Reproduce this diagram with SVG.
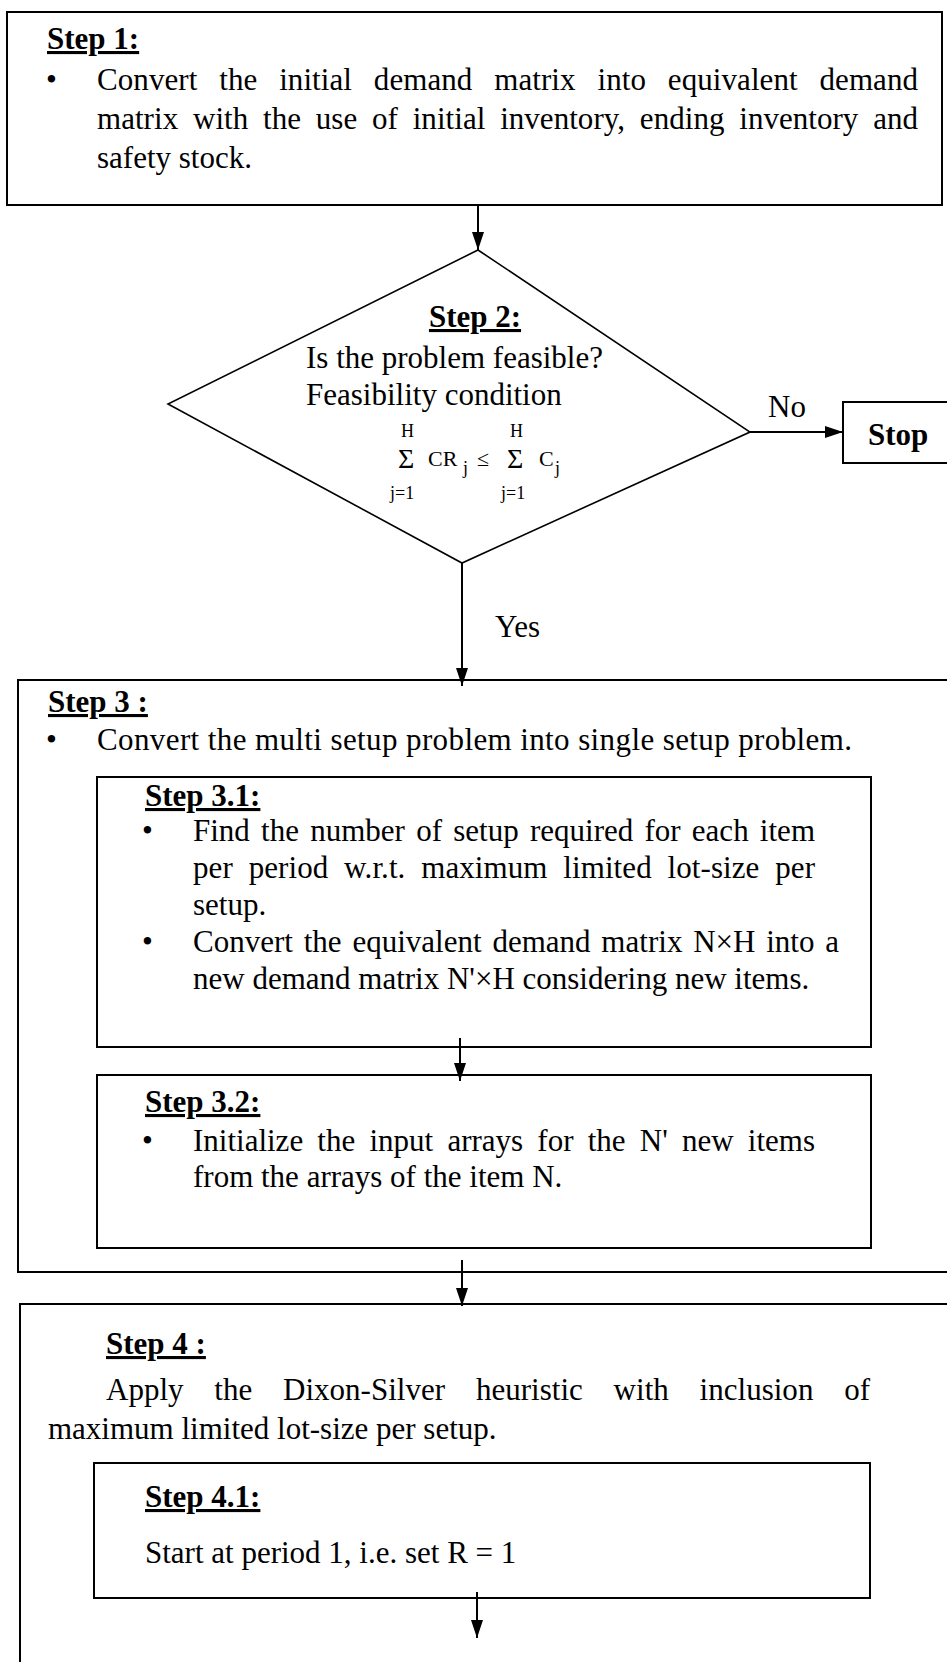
<svg xmlns="http://www.w3.org/2000/svg" width="947" height="1662" viewBox="0 0 947 1662">
<style>
.t{font-family:"Liberation Serif","Times New Roman",serif;font-size:31px;fill:#000}
.h{font-weight:bold;text-decoration:underline}
.bd{font-weight:bold}
.f{font-size:22px}
.sg{font-size:28px}
.sm{font-size:18px}
.box{fill:#fff;stroke:#000;stroke-width:2}
.ln{stroke:#000;stroke-width:2;fill:none}
</style>
<defs>
<marker id="ah" markerUnits="userSpaceOnUse" markerWidth="18" markerHeight="12" refX="18" refY="6" orient="auto">
<path d="M0,0 L18,6 L0,12 z" fill="#000"/>
</marker>
</defs>
<rect width="947" height="1662" fill="#fff"/>

<g id="step1">
<rect class="box" x="7" y="12" width="935" height="193"/>
<text class="t h" x="47" y="49">Step 1:</text>
<text class="t" x="46" y="90">•</text>
<text class="t" x="97" y="90" word-spacing="14" textLength="821">Convert the initial demand matrix into equivalent demand</text>
<text class="t" x="97" y="129" word-spacing="7" textLength="821">matrix with the use of initial inventory, ending inventory and</text>
<text class="t" x="97" y="168">safety stock.</text>
</g>

<g id="step2">
<polygon class="box" style="stroke-width:1.6" points="478,250 750,432 462,563 168,404"/>
<text class="t h" x="475" y="327" text-anchor="middle">Step 2:</text>
<text class="t" x="306" y="368">Is the problem feasible?</text>
<text class="t" x="306" y="405">Feasibility condition</text>
<text class="t sm" x="401" y="437">H</text>
<text class="t sm" x="510" y="437">H</text>
<text class="t sg" x="398" y="468">Σ</text>
<text class="t f" x="428" y="466">CR</text>
<text class="t sm" x="463" y="474">j</text>
<text class="t f" x="477" y="466">≤</text>
<text class="t sg" x="507" y="468">Σ</text>
<text class="t f" x="539" y="466">C</text>
<text class="t sm" x="555" y="474">j</text>
<text class="t sm" x="390" y="499">j=1</text>
<text class="t sm" x="501" y="499">j=1</text>
</g>

<g id="stop">
<rect class="box" x="843" y="402" width="120" height="61"/>
<text class="t bd" x="868" y="445">Stop</text>
</g>

<g id="step3">
<rect class="box" x="18" y="680" width="945" height="592"/>
<text class="t h" x="48" y="712">Step 3 :</text>
<text class="t" x="46" y="750">•</text>
<text class="t" x="97" y="750" textLength="755">Convert the multi setup problem into single setup problem.</text>
</g>

<g id="step3_1">
<rect class="box" x="97" y="777" width="774" height="270"/>
<text class="t h" x="145" y="806">Step 3.1:</text>
<text class="t" x="142" y="841">•</text>
<text class="t" x="193" y="841" word-spacing="3.5" textLength="622">Find the number of setup required for each item</text>
<text class="t" x="193" y="878" word-spacing="8" textLength="622">per period w.r.t. maximum limited lot-size per</text>
<text class="t" x="193" y="915">setup.</text>
<text class="t" x="142" y="952">•</text>
<text class="t" x="193" y="952" word-spacing="3" textLength="646">Convert the equivalent demand matrix N×H into a</text>
<text class="t" x="193" y="989">new demand matrix N'×H considering new items.</text>
</g>

<g id="step3_2">
<rect class="box" x="97" y="1075" width="774" height="173"/>
<text class="t h" x="145" y="1112">Step 3.2:</text>
<text class="t" x="142" y="1151">•</text>
<text class="t" x="193" y="1151" word-spacing="6.5" textLength="622">Initialize the input arrays for the N' new items</text>
<text class="t" x="193" y="1187">from the arrays of the item N.</text>
</g>

<g id="step4">
<rect class="box" x="20" y="1304" width="945" height="400"/>
<text class="t h" x="106" y="1354">Step 4 :</text>
<text class="t" x="106" y="1400" word-spacing="23" textLength="764">Apply the Dixon-Silver heuristic with inclusion of</text>
<text class="t" x="48" y="1439">maximum limited lot-size per setup.</text>
</g>

<g id="step4_1">
<rect class="box" x="94" y="1463" width="776" height="135"/>
<text class="t h" x="145" y="1507">Step 4.1:</text>
<text class="t" x="145" y="1563">Start at period 1, i.e. set R = 1</text>
</g>

<g id="connectors">
<line class="ln" x1="478" y1="205" x2="478" y2="250" marker-end="url(#ah)"/>
<line class="ln" x1="750" y1="432" x2="843" y2="432" marker-end="url(#ah)"/>
<text class="t" x="768" y="417">No</text>
<line class="ln" x1="462" y1="563" x2="462" y2="686" marker-end="url(#ah)"/>
<text class="t" x="495" y="637">Yes</text>
<line class="ln" x1="460" y1="1038" x2="460" y2="1081" marker-end="url(#ah)"/>
<line class="ln" x1="462" y1="1260" x2="462" y2="1306" marker-end="url(#ah)"/>
<line class="ln" x1="477" y1="1592" x2="477" y2="1638" marker-end="url(#ah)"/>
</g>
</svg>
